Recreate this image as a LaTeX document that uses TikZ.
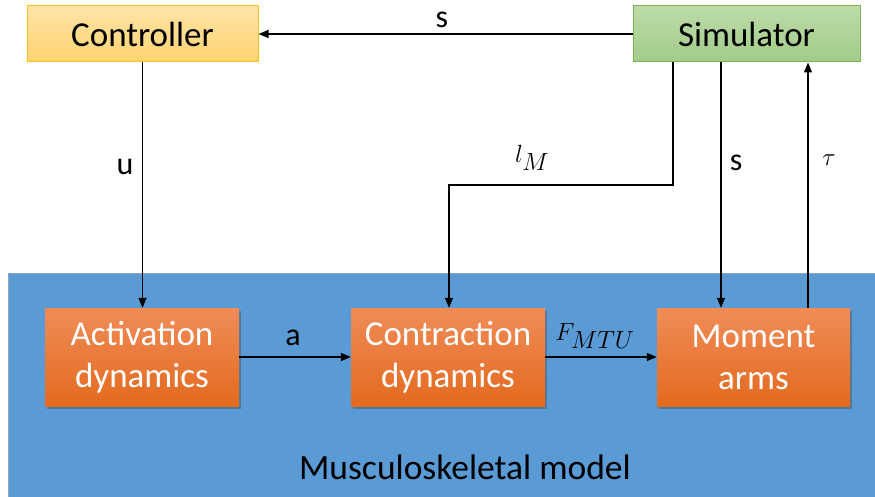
\documentclass[tikz,border=0pt]{standalone}
\usepackage{fontspec}
\setmainfont{Carlito}
\usetikzlibrary{arrows.meta,shadows}
\definecolor{ctrlTop}{HTML}{FFE3A8}
\definecolor{ctrlBot}{HTML}{FFD36E}
\definecolor{ctrlLine}{HTML}{FFC21A}
\definecolor{simTop}{HTML}{BCDBA8}
\definecolor{simBot}{HTML}{A3CC88}
\definecolor{simLine}{HTML}{7DB357}
\definecolor{bgBlue}{HTML}{5B9BD5}
\definecolor{bgLine}{HTML}{8FA6BD}
\definecolor{orTop}{HTML}{F08C58}
\definecolor{orBot}{HTML}{E36A1E}
\tikzset{
  topbox/.style={rectangle, draw, line width=1pt, minimum height=56pt, inner sep=0pt,
    font=\fontsize{35}{40}\selectfont, text=black},
  orbox/.style={rectangle, top color=orTop, bottom color=orBot, draw=none,
    minimum width=194pt, minimum height=98pt, inner sep=0pt, align=center,
    font=\fontsize{35}{42}\selectfont, text=white,
    drop shadow={shadow xshift=2pt, shadow yshift=-3pt, opacity=0.45, fill=black!70}},
  arr/.style={line width=1.3pt, -{Triangle[length=10pt,width=8pt]}},
  lbl/.style={font=\fontsize{32}{36}\selectfont, text=black, inner sep=0pt},
  mlbl/.style={font=\fontsize{34}{38}\selectfont, text=black, inner sep=0pt}
}
\begin{document}
\begin{tikzpicture}[x=1pt,y=-1pt]
\useasboundingbox (0,0) rectangle (875,497);
\fill[white] (0,0) rectangle (875,497);
% background model block
\node[rectangle, fill=bgBlue, draw=bgLine, line width=1pt, anchor=north west,
  minimum width=880pt, minimum height=240pt, inner sep=0pt] (bg) at (8,273) {};
\node[font=\fontsize{35.5}{40}\selectfont, text=black] (bgtxt) at (465,467) {Musculoskeletal model};
% top boxes
\node[topbox, top color=ctrlTop, bottom color=ctrlBot, draw=ctrlLine, minimum width=231pt] (ctrl) at (142.5,34) {Controller};
\node[topbox, top color=simTop, bottom color=simBot, draw=simLine, minimum width=227pt] (sim) at (746.5,34) {Simulator};
% orange boxes
\node[orbox] (act) at (142,357) {Activation\\dynamics};
\node[orbox] (con) at (448,357) {Contraction\\dynamics};
\node[orbox, minimum width=193pt] (mom) at (753.5,357) {Moment\\arms};
% connectors
\draw[arr] (sim.west) -- (ctrl.east);
\node[lbl] (ls) at (442,20) {s};
\draw[arr] (ctrl.south) -- (ctrl.south |- act.north);
\node[lbl] (lu) at (125,167) {u};
\coordinate (lmbend) at (673,185);
\draw[arr] (sim.south -| lmbend) -- (lmbend) -| ([xshift=1pt]con.north);
\node[mlbl] (llm) at (532,158) {$l_M$};
\draw[arr] ([xshift=-25.5pt]sim.south) -- ([xshift=-25.5pt]sim.south |- mom.north);
\node[lbl] (ls2) at (736,163) {s};
\draw[arr] ([xshift=54.5pt]mom.north) -- ([xshift=54.5pt]mom.north |- sim.south);
\node[mlbl] (ltau) at (829,160) {$\tau$};
\draw[arr] (act.east) -- (con.west);
\node[lbl] (la) at (293,338) {a};
\draw[arr] (con.east) -- (mom.west);
\node[mlbl] (lf) at (595,336) {$F_{MTU}$};
\end{tikzpicture}
\end{document}
